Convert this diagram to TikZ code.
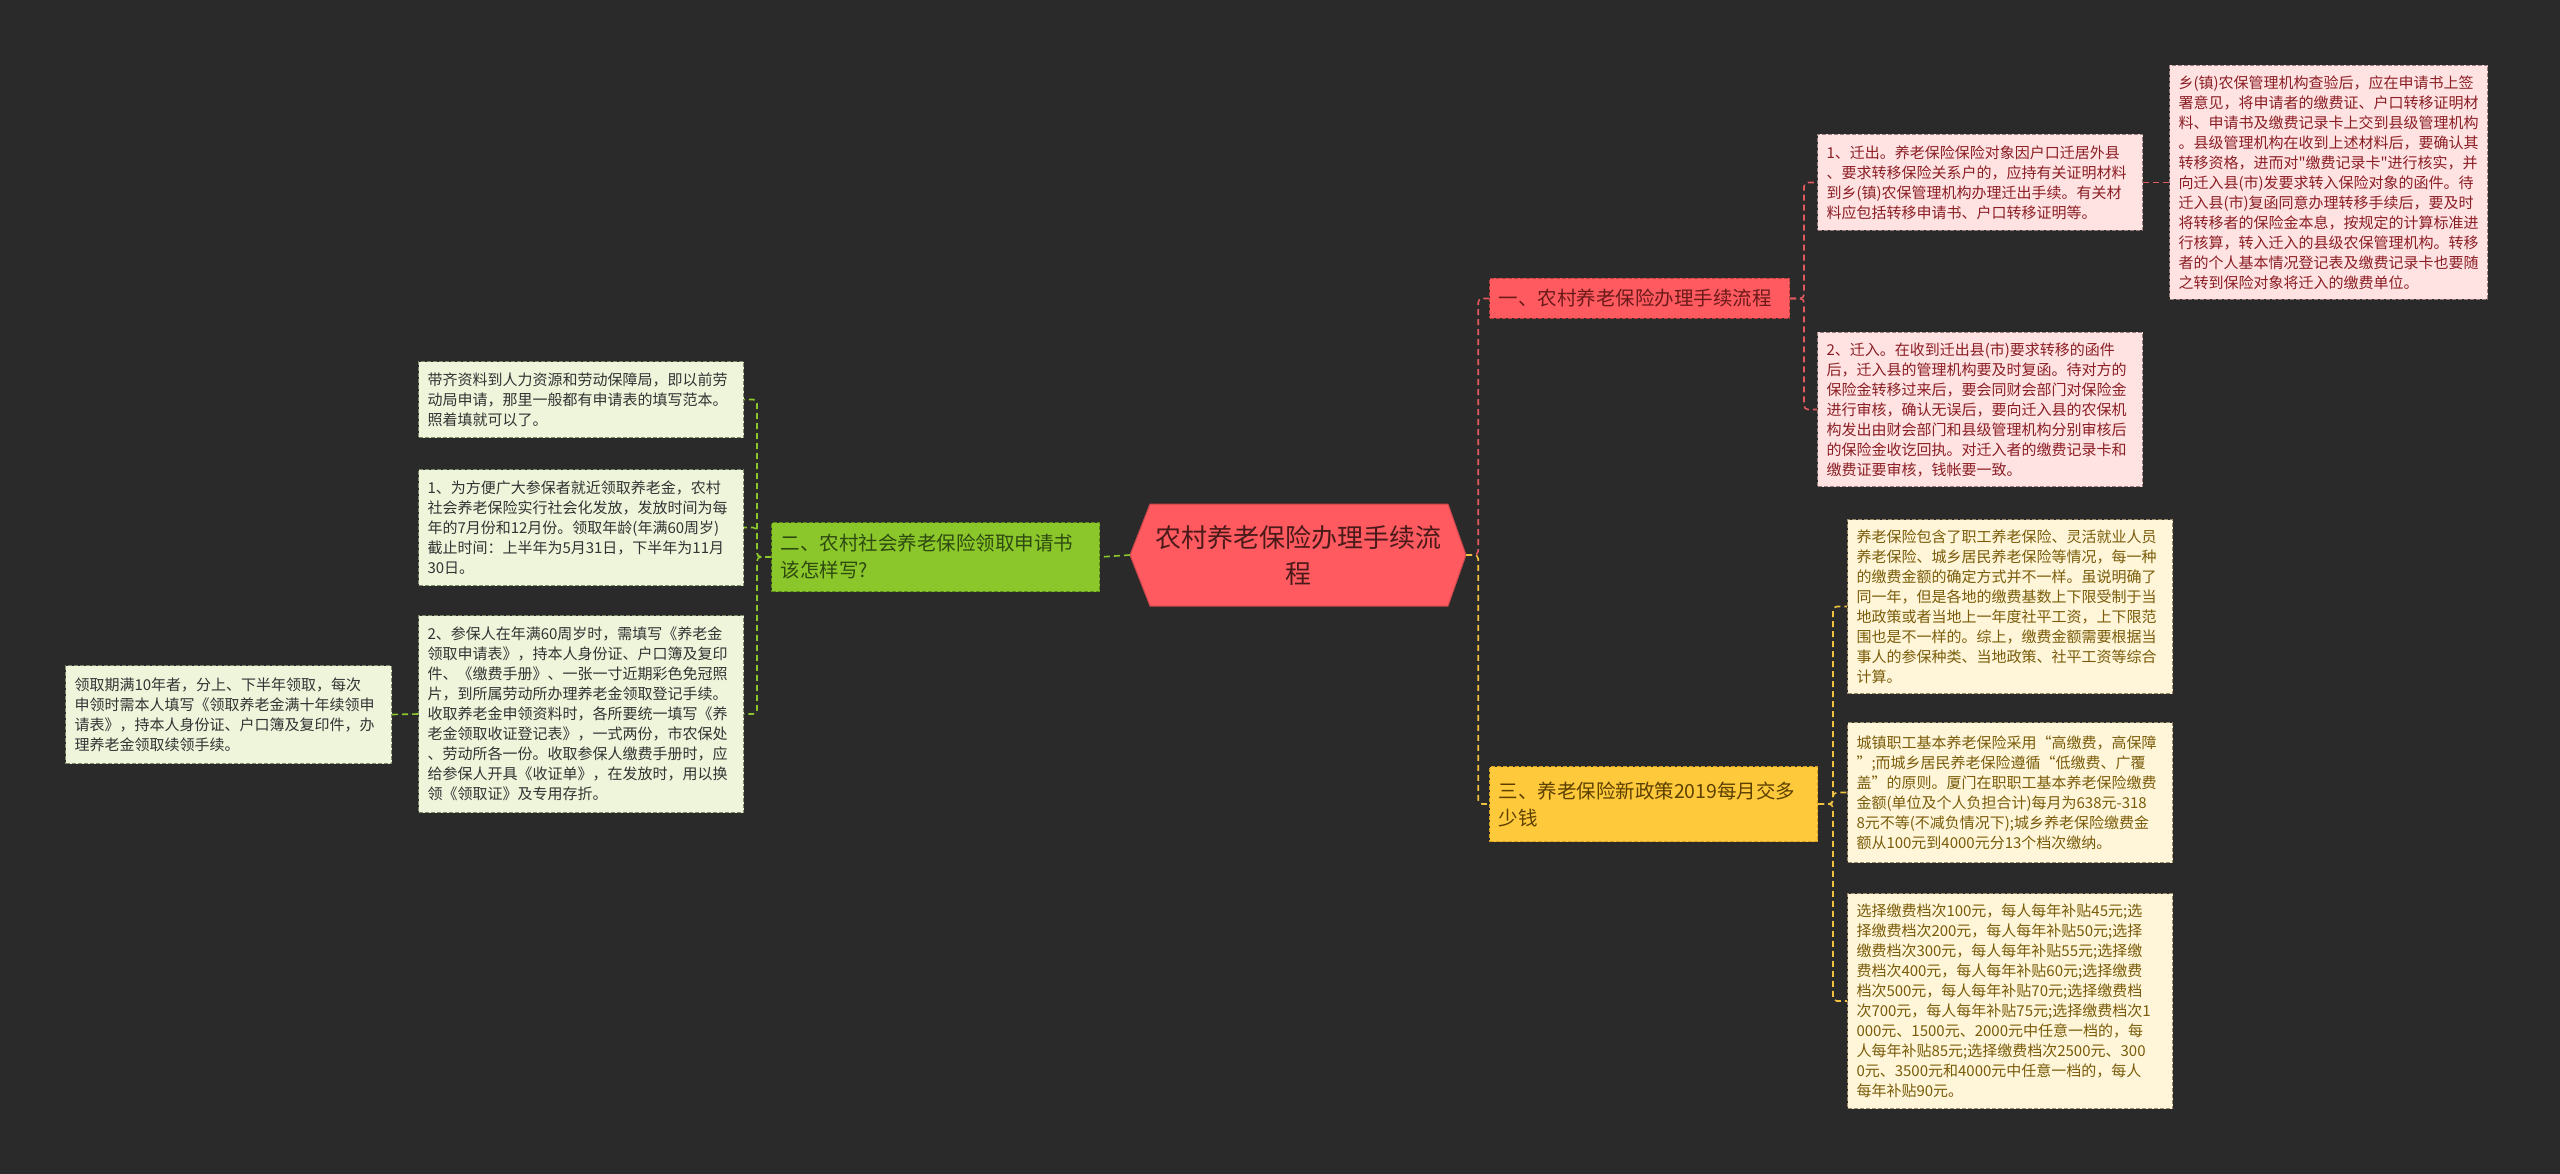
\documentclass[tikz,border=0pt]{standalone}
\usepackage{fontspec}
\setmainfont{Noto Sans CJK SC}
\newfontfamily\cjkfont{Noto Sans CJK SC}
\definecolor{bg}{HTML}{2A2A2A}
\definecolor{cenF}{HTML}{FF5A5F}
\definecolor{cenD}{HTML}{C9464B}
\definecolor{cenT}{HTML}{4A1A1A}
\definecolor{rF}{HTML}{FF5A5F}
\definecolor{rD}{HTML}{B8403F}
\definecolor{rT}{HTML}{6B1A1A}
\definecolor{rLF}{HTML}{FFE3E3}
\definecolor{rLD}{HTML}{9A7E7E}
\definecolor{rLT}{HTML}{8B1E24}
\definecolor{gF}{HTML}{8BC72B}
\definecolor{gD}{HTML}{5E8A1A}
\definecolor{gT}{HTML}{2E4A10}
\definecolor{gLF}{HTML}{EEF5DB}
\definecolor{gLD}{HTML}{7A8A6A}
\definecolor{gLT}{HTML}{333333}
\definecolor{yF}{HTML}{FFC93C}
\definecolor{yD}{HTML}{D9A020}
\definecolor{yT}{HTML}{5C4000}
\definecolor{yLF}{HTML}{FFF6D9}
\definecolor{yLD}{HTML}{9A8A6A}
\definecolor{yLT}{HTML}{7A5C0A}
\definecolor{cR}{HTML}{E25A60}
\definecolor{cG}{HTML}{8BC72B}
\definecolor{cY}{HTML}{F0C040}
\tikzset{
  box/.style={anchor=north west, inner xsep=9pt, inner ysep=0pt, align=left,
    dash pattern=on 4pt off 2pt, line width=1pt},
  leafR/.style={box, fill=rLF, draw=rLD, text=rLT, font=\cjkfont\fontsize{15}{20}\selectfont},
  leafG/.style={box, fill=gLF, draw=gLD, text=gLT, font=\cjkfont\fontsize{15}{20}\selectfont},
  leafY/.style={box, fill=yLF, draw=yLD, text=yLT, font=\cjkfont\fontsize{15}{20}\selectfont},
  brR/.style={box, fill=rF, draw=rD, text=rT, font=\cjkfont\fontsize{19.5}{27}\selectfont},
  brG/.style={box, fill=gF, draw=gD, text=gT, font=\cjkfont\fontsize{19.5}{27}\selectfont},
  brY/.style={box, fill=yF, draw=yD, text=yT, font=\cjkfont\fontsize{19.5}{27}\selectfont},
  conn/.style={line width=1.6pt, dash pattern=on 6pt off 4pt, rounded corners=4pt}
}
\begin{document}
\begin{tikzpicture}[x=1pt,y=-1pt]
\fill[bg] (0,0) rectangle (2560,1174);
\useasboundingbox (0,0) rectangle (2560,1174);

% central hexagon
\filldraw[fill=cenF, draw=cenD, line width=1pt]
  (1130,555) -- (1150,504) -- (1448,504) -- (1466,555) -- (1448,606) -- (1150,606) -- cycle;
\node[minimum width=336pt, minimum height=102pt, inner sep=0pt, align=center, text=cenT,
  font=\cjkfont\fontsize{26}{36}\selectfont] (c) at (1298,555) {农村养老保险办理手续流\\程};

% branches
\node[brR, minimum width=300pt, minimum height=40pt, text width=282pt] (b1) at (1489,278)
  {一、农村养老保险办理手续流程};
\node[brG, minimum width=328pt, minimum height=69pt, text width=310pt] (b2) at (771,522)
  {二、农村社会养老保险领取申请书\\该怎样写?};
\node[brY, minimum width=328pt, minimum height=75pt, text width=310pt] (b3) at (1489,766)
  {三、养老保险新政策2019每月交多\\少钱};

% branch 1 leaves
\node[leafR, minimum width=325pt, minimum height=96pt, text width=307pt] (l1a) at (1817,134)
  {1、迁出。养老保险保险对象因户口迁居外县\\、要求转移保险关系户的，应持有关证明材料\\到乡(镇)农保管理机构办理迁出手续。有关材\\料应包括转移申请书、户口转移证明等。};
\node[leafR, minimum width=318pt, minimum height=234pt, text width=300pt] (l1a1) at (2169,65)
  {乡(镇)农保管理机构查验后，应在申请书上签\\署意见，将申请者的缴费证、户口转移证明材\\料、申请书及缴费记录卡上交到县级管理机构\\。县级管理机构在收到上述材料后，要确认其\\转移资格，进而对"缴费记录卡"进行核实，并\\向迁入县(市)发要求转入保险对象的函件。待\\迁入县(市)复函同意办理转移手续后，要及时\\将转移者的保险金本息，按规定的计算标准进\\行核算，转入迁入的县级农保管理机构。转移\\者的个人基本情况登记表及缴费记录卡也要随\\之转到保险对象将迁入的缴费单位。};
\node[leafR, minimum width=325pt, minimum height=154pt, text width=307pt] (l1b) at (1817,332)
  {2、迁入。在收到迁出县(市)要求转移的函件\\后，迁入县的管理机构要及时复函。待对方的\\保险金转移过来后，要会同财会部门对保险金\\进行审核，确认无误后，要向迁入县的农保机\\构发出由财会部门和县级管理机构分别审核后\\的保险金收讫回执。对迁入者的缴费记录卡和\\缴费证要审核，钱帐要一致。};

% branch 3 leaves
\node[leafY, minimum width=325pt, minimum height=174pt, text width=307pt] (l3a) at (1847,519)
  {养老保险包含了职工养老保险、灵活就业人员\\养老保险、城乡居民养老保险等情况，每一种\\的缴费金额的确定方式并不一样。虽说明确了\\同一年，但是各地的缴费基数上下限受制于当\\地政策或者当地上一年度社平工资，上下限范\\围也是不一样的。综上，缴费金额需要根据当\\事人的参保种类、当地政策、社平工资等综合\\计算。};
\node[leafY, minimum width=325pt, minimum height=140pt, text width=307pt] (l3b) at (1847,722)
  {城镇职工基本养老保险采用“高缴费，高保障\\”;而城乡居民养老保险遵循“低缴费、广覆\\盖”的原则。厦门在职职工基本养老保险缴费\\金额(单位及个人负担合计)每月为638元-318\\8元不等(不减负情况下);城乡养老保险缴费金\\额从100元到4000元分13个档次缴纳。};
\node[leafY, minimum width=325pt, minimum height=215pt, text width=307pt] (l3c) at (1847,893)
  {选择缴费档次100元，每人每年补贴45元;选\\择缴费档次200元，每人每年补贴50元;选择\\缴费档次300元，每人每年补贴55元;选择缴\\费档次400元，每人每年补贴60元;选择缴费\\档次500元，每人每年补贴70元;选择缴费档\\次700元，每人每年补贴75元;选择缴费档次1\\000元、1500元、2000元中任意一档的，每\\人每年补贴85元;选择缴费档次2500元、300\\0元、3500元和4000元中任意一档的，每人\\每年补贴90元。};

% branch 2 leaves
\node[leafG, minimum width=325pt, minimum height=76pt, text width=307pt] (l2a) at (418,361)
  {带齐资料到人力资源和劳动保障局，即以前劳\\动局申请，那里一般都有申请表的填写范本。\\照着填就可以了。};
\node[leafG, minimum width=325pt, minimum height=116pt, text width=307pt] (l2b) at (418,469)
  {1、为方便广大参保者就近领取养老金，农村\\社会养老保险实行社会化发放，发放时间为每\\年的7月份和12月份。领取年龄(年满60周岁)\\截止时间：上半年为5月31日，下半年为11月\\30日。};
\node[leafG, minimum width=325pt, minimum height=197pt, text width=307pt] (l2c) at (418,615)
  {2、参保人在年满60周岁时，需填写《养老金\\领取申请表》，持本人身份证、户口簿及复印\\件、《缴费手册》、一张一寸近期彩色免冠照\\片，到所属劳动所办理养老金领取登记手续。\\收取养老金申领资料时，各所要统一填写《养\\老金领取收证登记表》，一式两份，市农保处\\、劳动所各一份。收取参保人缴费手册时，应\\给参保人开具《收证单》，在发放时，用以换\\领《领取证》及专用存折。};
\node[leafG, minimum width=326pt, minimum height=98pt, text width=308pt] (l2c1) at (65,665)
  {领取期满10年者，分上、下半年领取，每次\\申领时需本人填写《领取养老金满十年续领申\\请表》，持本人身份证、户口簿及复印件，办\\理养老金领取续领手续。};

% connectors
\draw[conn, cR] (c.east) -- ++(12,0) |- (b1.west);
\draw[conn, cY] (c.east) -- ++(12,0) |- (b3.west);
\draw[conn, cG] (c.west) -- (b2.east);

\draw[conn, cR] (b1.east) -- ++(14,0) |- (l1a.west);
\draw[conn, cR] (b1.east) -- ++(14,0) |- (l1b.west);
\draw[conn, cR] (l1a.east) -- (l1a1.west);

\draw[conn, cY] (b3.east) -- ++(15,0) |- (l3a.west);
\draw[conn, cY] (b3.east) -- ++(15,0) |- (l3b.west);
\draw[conn, cY] (b3.east) -- ++(15,0) |- (l3c.west);

\draw[conn, cG] (b2.west) -- ++(-14,0) |- (l2a.east);
\draw[conn, cG] (b2.west) -- ++(-14,0) |- (l2b.east);
\draw[conn, cG] (b2.west) -- ++(-14,0) |- (l2c.east);
\draw[conn, cG] (l2c.west) -- (l2c1.east);
\end{tikzpicture}
\end{document}
